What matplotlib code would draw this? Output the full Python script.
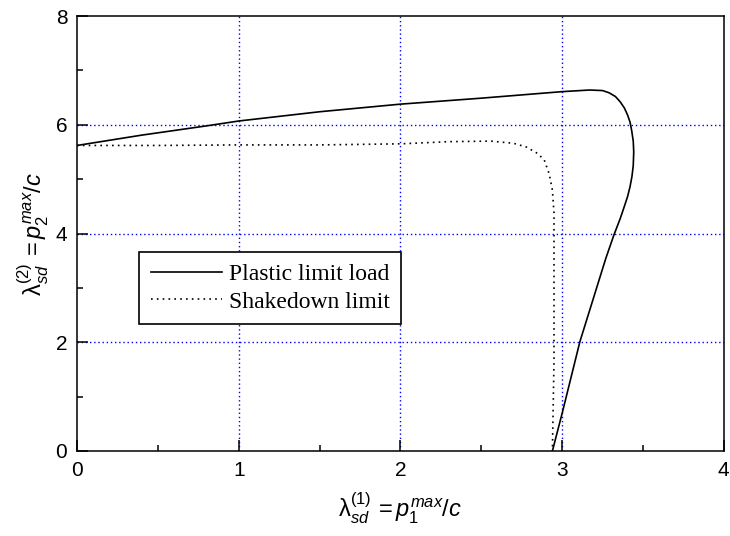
import matplotlib
matplotlib.use("Agg")
import matplotlib.pyplot as plt
from matplotlib.ticker import MultipleLocator

plt.rcParams['font.family'] = ['Liberation Sans', 'DejaVu Sans']
plt.rcParams['mathtext.fontset'] = 'custom'
plt.rcParams['mathtext.rm'] = 'Liberation Sans'
plt.rcParams['mathtext.it'] = 'Liberation Sans:italic'
plt.rcParams['mathtext.bf'] = 'Liberation Sans:bold'

# Plastic limit load curve
plastic_x = [0.0, 0.4, 0.8, 1.0, 1.5, 2.0, 2.5, 3.0, 3.17, 3.25, 3.29, 3.33,
             3.36, 3.385, 3.405, 3.42, 3.43, 3.44, 3.443, 3.44, 3.432, 3.42,
             3.405, 3.385, 3.36, 3.32, 3.27, 3.11, 3.0, 2.94]
plastic_y = [5.62, 5.81, 5.98, 6.07, 6.24, 6.38, 6.49, 6.61, 6.64, 6.63, 6.59, 6.52,
             6.42, 6.31, 6.18, 6.05, 5.90, 5.70, 5.50, 5.25, 5.05, 4.86,
             4.68, 4.50, 4.28, 3.97, 3.54, 2.01, 0.69, 0.0]

# Shakedown limit curve
shake_x = [0.0, 0.5, 1.0, 1.5, 2.0, 2.3, 2.56, 2.7, 2.78, 2.85, 2.89, 2.92,
           2.94, 2.95, 2.95, 2.95, 2.95, 2.94]
shake_y = [5.62, 5.62, 5.63, 5.63, 5.65, 5.69, 5.70, 5.66, 5.59, 5.47, 5.35,
           5.10, 4.80, 4.37, 3.51, 2.50, 1.67, 0.0]

legend_labels = ["Plastic limit load", "Shakedown limit"]

fig = plt.figure(figsize=(7.3, 5.36), dpi=100)
ax = fig.add_axes([0.1055, 0.1586, 0.886, 0.8114])

for v in [1, 2, 3]:
    ax.axvline(v, color='blue', lw=1.0, ls=(0, (1, 2)), zorder=1)
for v in [2, 4, 6]:
    ax.axhline(v, color='blue', lw=1.0, ls=(0, (1, 2)), zorder=1)

ax.plot(plastic_x, plastic_y, color='black', lw=1.2, label=legend_labels[0], zorder=3)
ax.plot(shake_x, shake_y, color='black', lw=1.2, ls=(0, (1, 2.5)), label=legend_labels[1], zorder=3)

ax.set_xlim(0, 4)
ax.set_ylim(0, 8)
ax.xaxis.set_major_locator(MultipleLocator(1))
ax.xaxis.set_minor_locator(MultipleLocator(0.5))
ax.yaxis.set_major_locator(MultipleLocator(2))
ax.yaxis.set_minor_locator(MultipleLocator(1))
ax.tick_params(which='both', direction='in', top=False, right=False, labelsize=15, width=1.1)
ax.tick_params(which='major', length=8, pad=7)
ax.tick_params(which='minor', length=4.5)
for s in ax.spines.values():
    s.set_linewidth(1.1)

ax.set_xlabel(r'$\mathrm{λ}_{sd}^{(1)}\,\mathrm{=}p_{1}^{max}\mathrm{/}c$', fontsize=17, labelpad=8)
ax.set_ylabel(r'$\mathrm{λ}_{sd}^{(2)}\,\mathrm{=}p_{2}^{max}\mathrm{/}c$', fontsize=17, labelpad=3)

leg = ax.legend(loc='upper left', bbox_to_anchor=(0.0957, 0.458), fancybox=False,
                edgecolor='black', framealpha=1,
                prop={'family': 'Liberation Serif', 'size': 17}, handlelength=3.0,
                borderpad=0.5, labelspacing=0.25, handletextpad=0.3, borderaxespad=0)
leg.get_frame().set_linewidth(1.2)

fig.savefig('out.png', dpi=100)
